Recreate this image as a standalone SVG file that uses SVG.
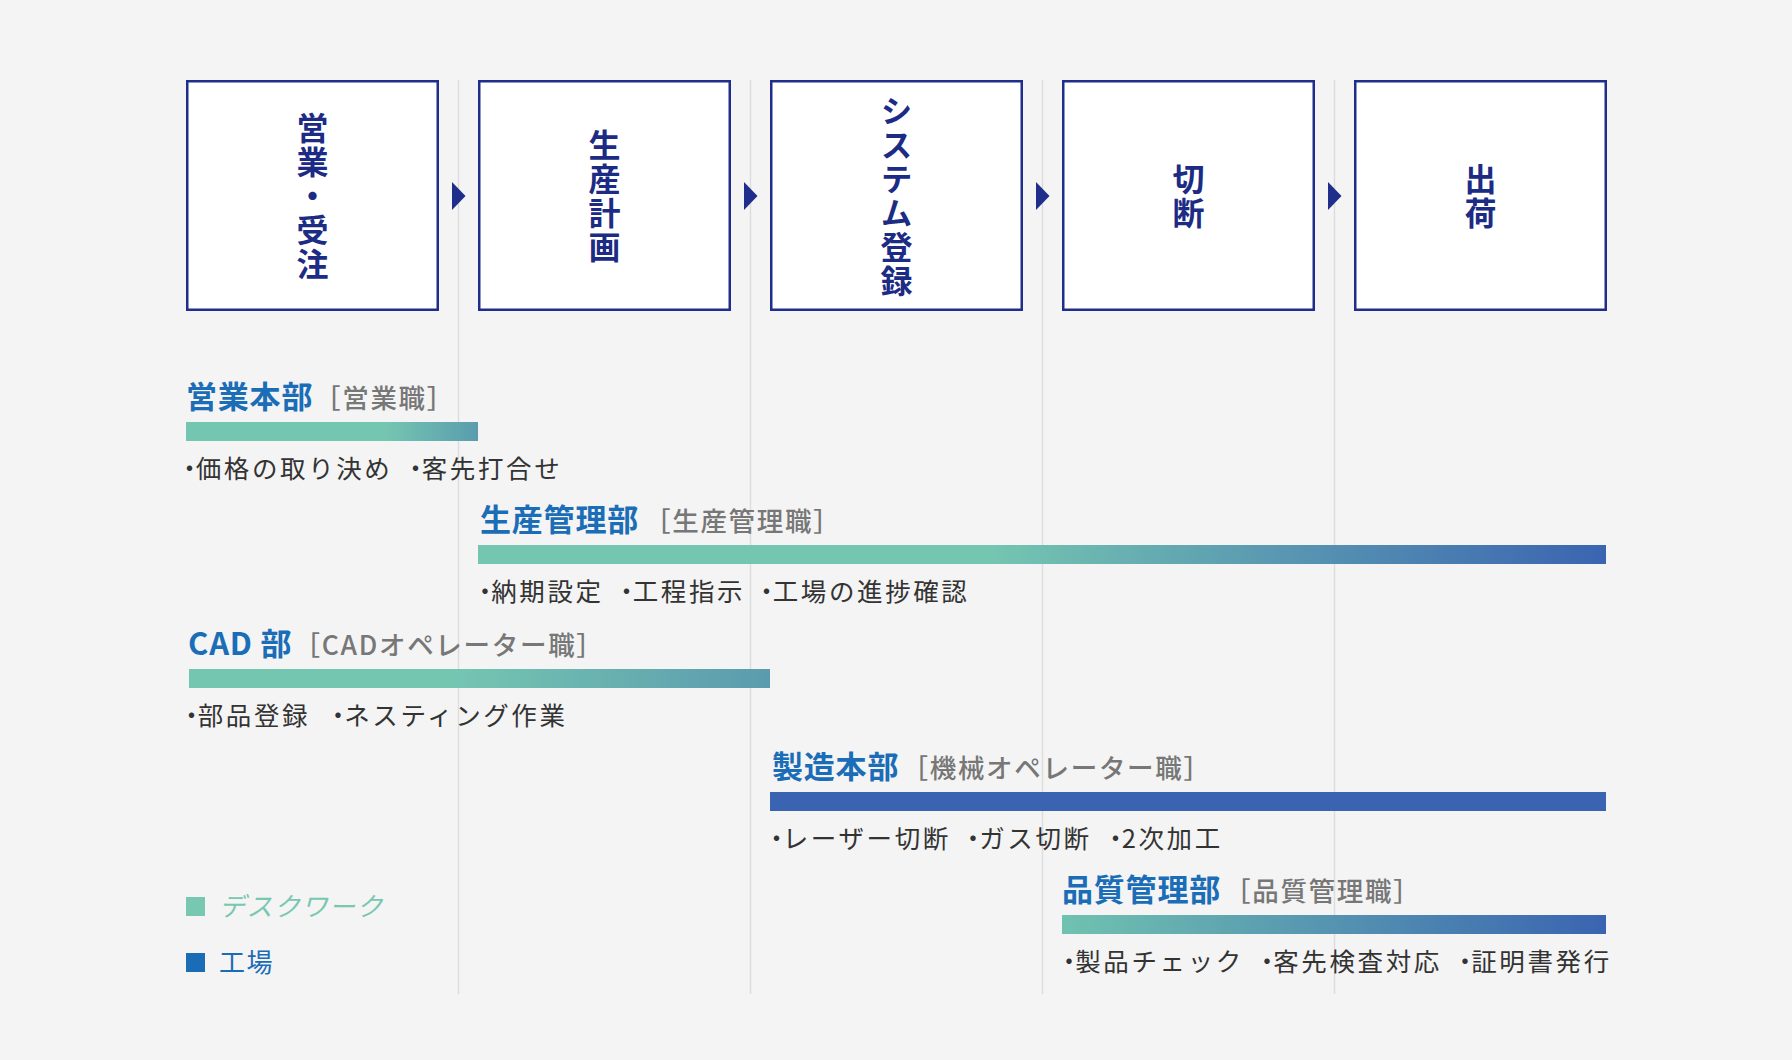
<svg xmlns="http://www.w3.org/2000/svg" width="1792" height="1060" viewBox="0 0 1792 1060">
<defs>
<style>
.box{fill:#ffffff;stroke:#1e2e8a;stroke-width:2.5}
.v{font-family:"Noto Sans CJK JP","Noto Sans CJK SC",sans-serif;font-weight:700;font-size:32px;fill:#1c2b84;writing-mode:vertical-rl;text-anchor:middle;letter-spacing:2px}
.grid{stroke:#dddddd;stroke-width:1.5}
.arr{fill:#1e2e8a}
.nm{font-family:"Noto Sans CJK JP","Noto Sans CJK SC",sans-serif;font-weight:700;font-size:31px;fill:#1a6db6;letter-spacing:0.8px}
.rl{font-family:"Noto Sans CJK JP","Noto Sans CJK SC",sans-serif;font-weight:500;font-size:26.5px;fill:#777777;letter-spacing:1.7px}
.bl{font-family:"Noto Sans CJK JP","Noto Sans CJK SC",sans-serif;font-weight:400;font-size:25.5px;fill:#333333;letter-spacing:2.6px}
.d{font-feature-settings:"palt";letter-spacing:0}
.lg{font-family:"Noto Sans CJK JP","Noto Sans CJK SC",sans-serif;font-weight:400;font-size:26px;letter-spacing:1.5px}
</style>
<linearGradient id="g1" x1="0" y1="0" x2="1" y2="0">
<stop offset="0" stop-color="#75c6b1"/><stop offset="0.68" stop-color="#75c6b1"/><stop offset="1" stop-color="#5a9cae"/>
</linearGradient>
<linearGradient id="g2" x1="0" y1="0" x2="1" y2="0">
<stop offset="0" stop-color="#75c6b1"/><stop offset="0.45" stop-color="#75c6b1"/><stop offset="1" stop-color="#3a64b1"/>
</linearGradient>
<linearGradient id="g3" x1="0" y1="0" x2="1" y2="0">
<stop offset="0" stop-color="#75c6b1"/><stop offset="0.45" stop-color="#75c6b1"/><stop offset="1" stop-color="#5b9bae"/>
</linearGradient>
<linearGradient id="g5" x1="0" y1="0" x2="1" y2="0">
<stop offset="0" stop-color="#70c2b0"/><stop offset="1" stop-color="#3a64b1"/>
</linearGradient>
</defs>
<rect x="0" y="0" width="1792" height="1060" fill="#f4f4f4"/>
<g id="grid">
<line class="grid" x1="458.5" y1="80" x2="458.5" y2="994"/>
<line class="grid" x1="750.5" y1="80" x2="750.5" y2="994"/>
<line class="grid" x1="1042.5" y1="80" x2="1042.5" y2="994"/>
<line class="grid" x1="1334.5" y1="80" x2="1334.5" y2="994"/>
</g>
<g id="step-sales">
<rect class="box" x="187.25" y="81.25" width="250.5" height="228.5"/>
<text class="v" x="312.5" y="197">営業・受注</text>
</g>
<g id="step-plan">
<rect class="box" x="479.25" y="81.25" width="250.5" height="228.5"/>
<text class="v" x="604.5" y="197">生産計画</text>
</g>
<g id="step-system">
<rect class="box" x="771.25" y="81.25" width="250.5" height="228.5"/>
<text class="v" x="896.5" y="197">システム登録</text>
</g>
<g id="step-cut">
<rect class="box" x="1063.25" y="81.25" width="250.5" height="228.5"/>
<text class="v" x="1188.5" y="197">切断</text>
</g>
<g id="step-ship">
<rect class="box" x="1355.25" y="81.25" width="250.5" height="228.5"/>
<text class="v" x="1480.5" y="197">出荷</text>
</g>
<g id="connectors">
<polygon class="arr" points="452,182 465.5,196 452,210"/>
<polygon class="arr" points="744,182 757.5,196 744,210"/>
<polygon class="arr" points="1036,182 1049.5,196 1036,210"/>
<polygon class="arr" points="1328,182 1341.5,196 1328,210"/>
</g>
<g id="dept-sales">
<text y="408"><tspan class="nm" x="186">営業本部</tspan><tspan class="rl" x="314">［営業職］</tspan></text>
<rect x="186" y="422" width="292" height="19" fill="url(#g1)"/>
<text class="bl" y="478"><tspan x="183"><tspan class="d">・</tspan>価格の取り決め</tspan> <tspan x="409"><tspan class="d">・</tspan>客先打合せ</tspan></text>
</g>
<g id="dept-production">
<text y="531"><tspan class="nm" x="480">生産管理部</tspan><tspan class="rl" x="644">［生産管理職］</tspan></text>
<rect x="478" y="545" width="1128" height="19" fill="url(#g2)"/>
<text class="bl" y="601"><tspan x="478.5"><tspan class="d">・</tspan>納期設定</tspan> <tspan x="620"><tspan class="d">・</tspan>工程指示</tspan> <tspan x="760"><tspan class="d">・</tspan>工場の進捗確認</tspan></text>
</g>
<g id="dept-cad">
<text y="655"><tspan class="nm" x="188">CAD 部</tspan><tspan class="rl" x="293.5">［CADオペレーター職］</tspan></text>
<rect x="189" y="669" width="581" height="19" fill="url(#g3)"/>
<text class="bl" y="725"><tspan x="185"><tspan class="d">・</tspan>部品登録</tspan> <tspan x="331.5"><tspan class="d">・</tspan>ネスティング作業</tspan></text>
</g>
<g id="dept-manufacturing">
<text y="778"><tspan class="nm" x="772">製造本部</tspan><tspan class="rl" x="901.5">［機械オペレーター職］</tspan></text>
<rect x="770" y="792" width="836" height="19" fill="#3a64b1"/>
<text class="bl" y="848"><tspan x="770"><tspan class="d">・</tspan>レーザー切断</tspan> <tspan x="966.5"><tspan class="d">・</tspan>ガス切断</tspan> <tspan x="1109"><tspan class="d">・</tspan>2次加工</tspan></text>
</g>
<g id="dept-quality">
<text y="901"><tspan class="nm" x="1062">品質管理部</tspan><tspan class="rl" x="1224">［品質管理職］</tspan></text>
<rect x="1062" y="915" width="544" height="19" fill="url(#g5)"/>
<text class="bl" y="971"><tspan x="1062.5"><tspan class="d">・</tspan>製品チェック</tspan> <tspan x="1260.5"><tspan class="d">・</tspan>客先検査対応</tspan> <tspan x="1458.5"><tspan class="d">・</tspan>証明書発行</tspan></text>
</g>
<g id="legend">
<rect x="186" y="897" width="19" height="19" fill="#78c7b1"/>
<text class="lg" x="219" y="916" fill="#78c7b1" font-style="italic">デスクワーク</text>
<rect x="186" y="953" width="19" height="19" fill="#1a6cb6"/>
<text class="lg" x="219" y="972" fill="#1a6cb6">工場</text>
</g>
</svg>
